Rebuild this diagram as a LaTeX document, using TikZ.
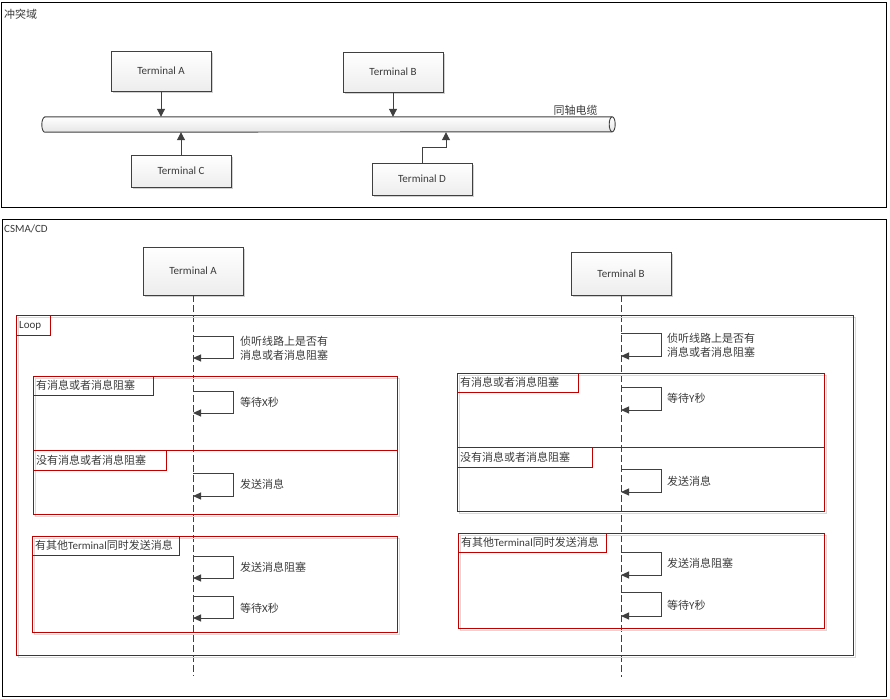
\documentclass[tikz,border=0pt]{standalone}
\usepackage{fontspec}
\setmainfont{Carlito}
\newfontfamily\cjk{Noto Sans CJK SC}
\usetikzlibrary{arrows.meta,shadows}
\definecolor{fr}{HTML}{C00000}
\definecolor{ln}{HTML}{404040}
\definecolor{tx}{HTML}{3A3A3A}
\definecolor{sh}{HTML}{D9D9D9}
\begin{document}
\begin{tikzpicture}[x=1pt,y=-1pt,
  font=\fontsize{11}{14}\selectfont, text=tx,
  box/.style={draw=ln, line width=0.9pt, top color=white, bottom color=black!7,
    inner sep=0pt, minimum width=100pt,
    drop shadow={shadow xshift=2pt, shadow yshift=-2pt, fill=black!18, opacity=1}},
  arr/.style={draw=ln, line width=1pt, -{Triangle[length=8pt,width=8pt]}},
  life/.style={draw=ln, line width=1pt, dash pattern=on 7pt off 3pt},
  msg/.style={draw=ln, line width=1pt, -{Triangle[length=8pt,width=7pt]}},
  outer/.style={draw=black, line width=1pt},
  frm/.style={draw=fr, line width=1pt},
  frmsh/.style={draw=sh, line width=1pt},
  lbl/.style={anchor=west, inner sep=0pt},
  mtxt/.style={anchor=west, inner sep=0pt, align=left}]
\useasboundingbox (0,0) rectangle (890,698);

% ---------- collision domain ----------
\draw[outer] (1,3) rectangle (886,207);
\node[lbl] (cd) at (4,14) {\cjk 冲突域};

\node[inner sep=0pt, minimum width=573pt, minimum height=15pt] (cable) at (328.5,124.5) {};
\draw[draw=ln, line width=0.9pt, top color=white, bottom color=black!10]
  ([xshift=3pt]cable.north west) -- ([xshift=-3pt]cable.north east)
  arc[start angle=90, end angle=-90, x radius=3pt, y radius=7.5pt]
  -- ([xshift=3pt]cable.south west)
  arc[start angle=270, end angle=90, x radius=3pt, y radius=7.5pt] -- cycle;
\draw[draw=ln, line width=0.9pt] ([xshift=-3pt]cable.north east)
  arc[start angle=90, end angle=270, x radius=3pt, y radius=7.5pt];
\node (cl) at (575.5,110) {\cjk 同轴电缆};

\node[box, minimum height=40pt] (tA) at (161,71) {Terminal A};
\node[box, minimum height=40pt] (tB) at (393,72) {Terminal B};
\node[box, minimum height=32pt] (tC) at (181,171) {Terminal C};
\node[box, minimum height=32pt] (tD) at (422,179) {Terminal D};

\draw[arr] (tA.south) -- (tA.south |- cable.north);
\draw[arr] (tB.south) -- (tB.south |- cable.north);
\draw[arr] (tC.north) -- (tC.north |- cable.south);
\coordinate (dk) at (446,0 |- cable.south);
\draw[arr] (tD.north) -- ++(0,-15) -| (dk);

% ---------- CSMA/CD ----------
\draw[outer] (2,219) rectangle (886,696);
\node[lbl] (cs) at (4,229) {CSMA/CD};

\node[box, minimum height=48pt] (sA) at (193,271) {Terminal A};
\node[box, minimum height=43pt] (sB) at (621,273.5) {Terminal B};
\coordinate (Aend) at (193,676);
\coordinate (Bend) at (621,677);
\draw[life] (sA.south) -- (Aend);
\draw[life] (sB.south) -- (Bend);

% Loop frame
\draw[frmsh] (18,317) rectangle (855,657);
\draw[frm] (16,315) rectangle (853,655);
\draw[frm] (16,315) rectangle (50,335);
\node[lbl] (loop) at (19,325.5) {Loop};

% left alt
\draw[frmsh] (35,378) rectangle (399,516);
\draw[frm] (33,376) rectangle (397,514);
\draw[frm] (33,450) -- (397,450);
\draw[frm] (33,376) rectangle (153,395);
\node[lbl] (la1) at (36,385.5) {\cjk 有消息或者消息阻塞};
\draw[frm] (33,450) rectangle (166,470);
\node[lbl] (la2) at (36,460) {\cjk 没有消息或者消息阻塞};

% right alt
\draw[frmsh] (459,375) rectangle (826,513);
\draw[frm] (457,373) rectangle (824,511);
\draw[frm] (457,447) -- (824,447);
\draw[frm] (457,373) rectangle (578,392);
\node[lbl] (ra1) at (460,382.5) {\cjk 有消息或者消息阻塞};
\draw[frm] (457,447) rectangle (592,467);
\node[lbl] (ra2) at (460,457) {\cjk 没有消息或者消息阻塞};

% left other
\draw[frmsh] (34,538) rectangle (399,634);
\draw[frm] (32,536) rectangle (397,632);
\draw[frm] (32,536) rectangle (179,555);
\node[lbl] (lo) at (35,545.5) {{\cjk 有其他}Terminal{\cjk 同时发送消息}};

% right other
\draw[frmsh] (460,535) rectangle (826,630);
\draw[frm] (458,533) rectangle (824,628);
\draw[frm] (458,533) rectangle (606,552);
\node[lbl] (ro) at (461,542.5) {{\cjk 有其他}Terminal{\cjk 同时发送消息}};

% self messages
\foreach \n/\x/\ya/\yb in {a1/193/336/358, a2/193/391/413, a3/193/473/496,
    a4/193/556/578, a5/193/596/618, b1/621/333/356, b2/621/387/410,
    b3/621/469/492, b4/621/552/575, b5/621/592/616}{
  \coordinate (\n s) at (\x,\ya);
  \coordinate (\n e) at (\x,\yb);
  \draw[msg] (\n s) -- ++(40,0) |- (\n e);
}
\node[mtxt] (ta1) at (240,348) {\cjk 侦听线路上是否有\\\cjk 消息或者消息阻塞};
\node[mtxt] (ta2) at (240,402) {{\cjk 等待}X{\cjk 秒}};
\node[mtxt] (ta3) at (240,484) {\cjk 发送消息};
\node[mtxt] (ta4) at (240,567) {\cjk 发送消息阻塞};
\node[mtxt] (ta5) at (240,608) {{\cjk 等待}X{\cjk 秒}};
\node[mtxt] (tb1) at (667,345) {\cjk 侦听线路上是否有\\\cjk 消息或者消息阻塞};
\node[mtxt] (tb2) at (667,398) {{\cjk 等待}Y{\cjk 秒}};
\node[mtxt] (tb3) at (667,481) {\cjk 发送消息};
\node[mtxt] (tb4) at (667,563) {\cjk 发送消息阻塞};
\node[mtxt] (tb5) at (667,605) {{\cjk 等待}Y{\cjk 秒}};
\end{tikzpicture}
\end{document}
